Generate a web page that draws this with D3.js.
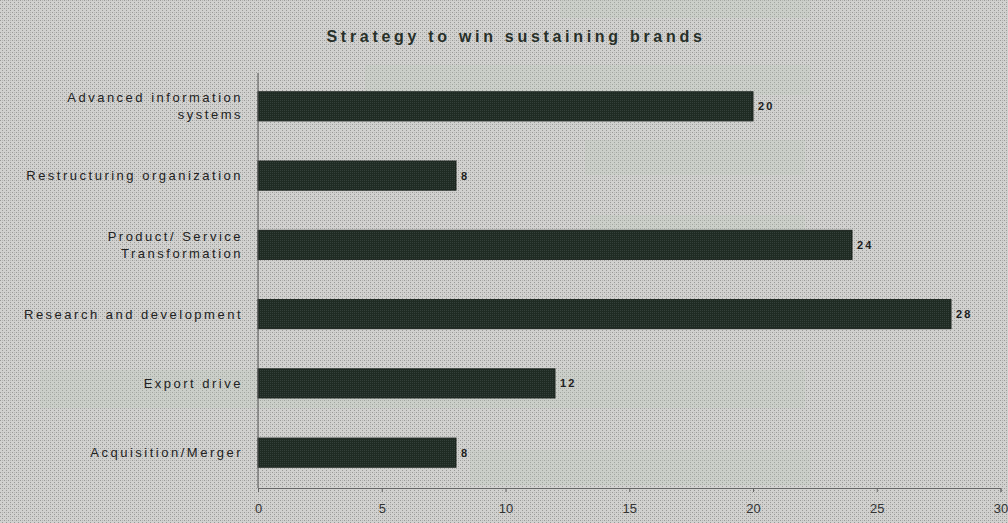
<!DOCTYPE html>
<html>
<head>
<meta charset="utf-8">
<script src="https://cdn.jsdelivr.net/npm/d3@7"></script>
<style>
  html, body { margin: 0; padding: 0; background: #c9c9c7; }
  svg { display: block; }
  text { font-family: "Liberation Sans", Arial, sans-serif; }
</style>
</head>
<body>
<svg id="chart" width="1008" height="523"></svg>
<script>
// Chart data
const categories = [
  "Advanced information|systems",
  "Restructuring organization",
  "Product/ Service|Transformation",
  "Research and development",
  "Export drive",
  "Acquisition/Merger"
];
const values = [20, 8, 24, 28, 12, 8];
const xTicks = [0, 5, 10, 15, 20, 25, 30];
const title = "Strategy to win sustaining brands";

const W = 1008, H = 523;
const margin = { left: 258, right: 8, top: 71, bottom: 35 };

const svg = d3.select("#chart");

// Halftone-like paper texture
const defs = svg.append("defs");
const pat = defs.append("pattern")
  .attr("id", "paper").attr("width", 4).attr("height", 4)
  .attr("patternUnits", "userSpaceOnUse");
pat.append("rect").attr("width", 4).attr("height", 4).attr("fill", "#d1d1cf");
pat.append("rect").attr("x", 0).attr("y", 0).attr("width", 1).attr("height", 1).attr("fill", "#999997");
pat.append("rect").attr("x", 2).attr("y", 2).attr("width", 1).attr("height", 1).attr("fill", "#999997");
pat.append("rect").attr("x", 2).attr("y", 0).attr("width", 1).attr("height", 1).attr("fill", "#b5b5b3");

const barPat = defs.append("pattern")
  .attr("id", "barfill").attr("width", 2).attr("height", 2)
  .attr("patternUnits", "userSpaceOnUse");
barPat.append("rect").attr("width", 2).attr("height", 2).attr("fill", "#1f2b23");
barPat.append("rect").attr("x", 0).attr("y", 0).attr("width", 1).attr("height", 1).attr("fill", "#34403a");

svg.append("rect").attr("width", W).attr("height", H).attr("fill", "url(#paper)");

// faint greenish patches on the paper
const patches = [
  [365, 65, 445, 30], [585, 140, 220, 35], [590, 215, 215, 35],
  [40, 370, 765, 38], [470, 450, 340, 35], [560, 0, 250, 18]
];
svg.append("g").selectAll("rect").data(patches).join("rect")
  .attr("x", d => d[0]).attr("y", d => d[1])
  .attr("width", d => d[2]).attr("height", d => d[3])
  .attr("fill", "#bccab8").attr("opacity", 0.25);

const x = d3.scaleLinear().domain([0, 30]).range([margin.left, 1000.5]);
const y = d3.scaleBand().domain(categories)
  .range([margin.top, H - margin.bottom]).paddingInner(0.58).paddingOuter(0.3);

// Title
svg.append("text")
  .attr("x", 516).attr("y", 42)
  .attr("text-anchor", "middle")
  .attr("font-size", 16).attr("font-weight", "bold")
  .attr("letter-spacing", 3.7)
  .attr("fill", "#283029")
  .text(title);

// Bars
svg.append("g").selectAll("rect").data(values).join("rect")
  .attr("x", x(0))
  .attr("y", (d, i) => y(categories[i]))
  .attr("width", d => x(d) - x(0))
  .attr("height", y.bandwidth())
  .attr("fill", "url(#barfill)")
  .attr("stroke", "#1a221d").attr("stroke-width", 1);

// Value labels
svg.append("g").selectAll("text").data(values).join("text")
  .attr("x", d => x(d) + 5)
  .attr("y", (d, i) => y(categories[i]) + y.bandwidth() / 2 + 4)
  .attr("font-size", 11).attr("font-weight", "bold")
  .attr("letter-spacing", 2.2)
  .attr("fill", "#1e1e1e")
  .text(d => d);

// Category labels
const catG = svg.append("g");
categories.forEach(c => {
  const lines = c.split("|");
  const cy = y(c) + y.bandwidth() / 2;
  const t = catG.append("text")
    .attr("x", 243).attr("text-anchor", "end")
    .attr("font-size", 13).attr("letter-spacing", 2.5)
    .attr("fill", "#222");
  lines.forEach((l, k) => {
    t.append("tspan").attr("x", 243)
      .attr("y", cy + 4.5 + (k - (lines.length - 1) / 2) * 17)
      .text(l);
  });
});

// Axes
const axisY = 488;
const xAxis = svg.append("g")
  .attr("transform", `translate(0,${axisY})`)
  .call(d3.axisBottom(x).tickValues(xTicks).tickSize(4).tickPadding(12));
xAxis.select(".domain").attr("stroke", "#666");
xAxis.selectAll(".tick line").attr("stroke", "#666");
xAxis.selectAll(".tick text")
  .attr("font-size", 13).attr("fill", "#333")
  .attr("font-family", "Liberation Sans, Arial, sans-serif");

svg.append("line")
  .attr("x1", x(0)).attr("x2", x(0))
  .attr("y1", 73).attr("y2", axisY)
  .attr("stroke", "#555").attr("stroke-width", 1);
</script>
</body>
</html>
